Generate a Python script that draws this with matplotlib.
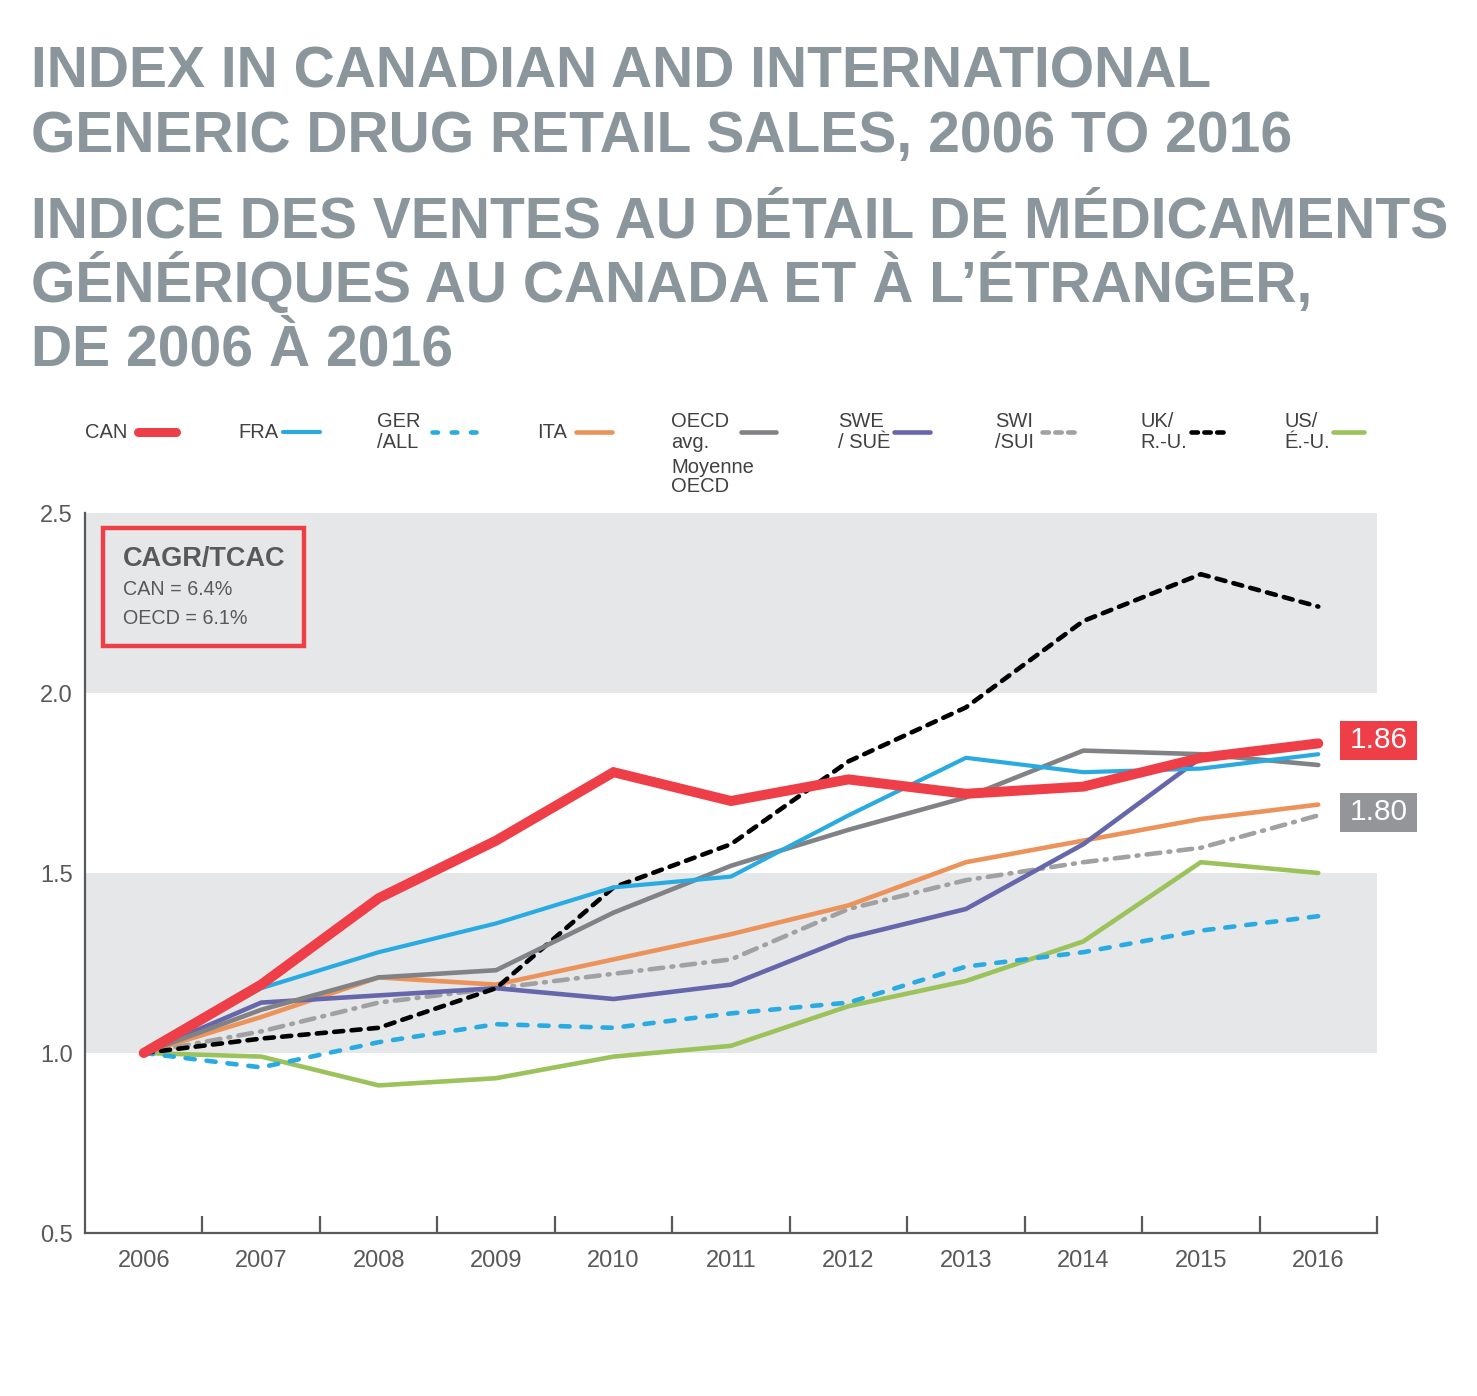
import matplotlib
matplotlib.use("Agg")
import matplotlib.pyplot as plt
from matplotlib.lines import Line2D
from matplotlib.patches import Rectangle

W, H = 1477, 1396

years = list(range(2006, 2017))
can = [1.00, 1.19, 1.43, 1.59, 1.78, 1.70, 1.76, 1.72, 1.74, 1.82, 1.86]
fra = [1.00, 1.18, 1.28, 1.36, 1.46, 1.49, 1.66, 1.82, 1.78, 1.79, 1.83]
ger = [1.00, 0.96, 1.03, 1.08, 1.07, 1.11, 1.14, 1.24, 1.28, 1.34, 1.38]
ita = [1.00, 1.10, 1.21, 1.19, 1.26, 1.33, 1.41, 1.53, 1.59, 1.65, 1.69]
oecd = [1.00, 1.12, 1.21, 1.23, 1.39, 1.52, 1.62, 1.71, 1.84, 1.83, 1.80]
swe = [1.00, 1.14, 1.16, 1.18, 1.15, 1.19, 1.32, 1.40, 1.58, 1.82, 1.86]
swi = [1.00, 1.06, 1.14, 1.18, 1.22, 1.26, 1.40, 1.48, 1.53, 1.57, 1.66]
uk = [1.00, 1.04, 1.07, 1.18, 1.46, 1.58, 1.81, 1.96, 2.20, 2.33, 2.24]
us = [1.00, 0.99, 0.91, 0.93, 0.99, 1.02, 1.13, 1.20, 1.31, 1.53, 1.50]

y_ticks = [0.5, 1.0, 1.5, 2.0, 2.5]
title_lines = [
    "INDEX IN CANADIAN AND INTERNATIONAL",
    "GENERIC DRUG RETAIL SALES, 2006 TO 2016",
    "INDICE DES VENTES AU DÉTAIL DE MÉDICAMENTS",
    "GÉNÉRIQUES AU CANADA ET À L\u2019ÉTRANGER,",
    "DE 2006 À 2016",
]
cagr_lines = ["CAN = 6.4%", "OECD = 6.1%"]

RED = "#ee3e47"
BLUE = "#29abe2"
ORANGE = "#ec935c"
GREY = "#808285"
PURPLE = "#6667ab"
LGREY = "#a1a1a4"
GREEN = "#9bc25b"
TXT = "#58595b"
TITLE = "#8a969b"

plt.rcParams['font.family'] = ['Liberation Sans', 'DejaVu Sans']


def fx(px):
    return px / W


def fy(py):
    return 1 - py / H


# (data, colour, width, dash pattern)
series = [
    (us, GREEN, 3.3, None),
    (ger, BLUE, 3.3, (2.0, 2.6)),
    (swi, LGREY, 3.3, (3.0, 1.8, 0.4, 1.8)),
    (ita, ORANGE, 3.3, None),
    (swe, PURPLE, 3.3, None),
    (uk, "black", 3.3, (2.0, 1.8)),
    (oecd, GREY, 3.3, None),
    (fra, BLUE, 3.0, None),
    (can, RED, 7.2, None),
]

fig = plt.figure(figsize=(W / 100, H / 100), dpi=100)

# title block
baselines = [88, 152, 238, 302, 366]
for txt, base in zip(title_lines, baselines):
    fig.text(fx(31), fy(base), txt, fontsize=41, fontweight='bold',
             color=TITLE, va='baseline', ha='left')

ax = fig.add_axes([fx(85), fy(1233), (1377 - 85) / W, (1233 - 513) / H])
ax.axhspan(1.0, 1.5, color="#e6e7e8", zorder=0, lw=0)
ax.axhspan(2.0, 2.5, color="#e6e7e8", zorder=0, lw=0)

for data, col, lw, dash in series:
    line, = ax.plot(years, data, color=col, lw=lw, solid_capstyle='round',
                    solid_joinstyle='miter', zorder=3)
    if dash is not None:
        line.set_dashes(dash)
        line.set_dash_capstyle('round')

ax.set_xlim(2005.5, 2016.5)
ax.set_ylim(0.5, 2.5)
ax.set_xticks(years)
ax.set_xticklabels([str(y) for y in years])
ax.set_xticks([y + 0.5 for y in years], minor=True)
ax.set_yticks(y_ticks)
ax.set_yticklabels([f"{v:.1f}" for v in y_ticks])
ax.tick_params(axis='x', which='major', length=0, pad=12, labelsize=17,
               labelcolor=TXT)
ax.tick_params(axis='x', which='minor', direction='in', length=12,
               width=1.6, color=TXT)
ax.tick_params(axis='y', length=0, pad=9, labelsize=17, labelcolor=TXT)
for side in ['top', 'right']:
    ax.spines[side].set_visible(False)
for side in ['left', 'bottom']:
    ax.spines[side].set_color(TXT)
    ax.spines[side].set_linewidth(1.6)
ax.patch.set_alpha(0)

# CAGR box
fig.add_artist(Rectangle((fx(103), fy(646)), 201 / W, 118 / H,
                         transform=fig.transFigure, fill=False,
                         ec=RED, lw=3.2))
fig.text(fx(123), fy(566), "CAGR/TCAC", fontsize=19.5, fontweight='bold',
         color=TXT, va='baseline')
fig.text(fx(123), fy(595), cagr_lines[0], fontsize=14.2, color=TXT,
         va='baseline')
fig.text(fx(123), fy(624), cagr_lines[1], fontsize=14.2, color=TXT,
         va='baseline')

# end-value tags
for top, bottom, col, txt in [(721, 760, RED, f"{can[-1]:.2f}"),
                              (793, 832, "#939598", f"{oecd[-1]:.2f}")]:
    fig.add_artist(Rectangle((fx(1340), fy(bottom)), 77 / W,
                             (bottom - top) / H, transform=fig.transFigure,
                             color=col, lw=0))
    fig.text(fx(1378.5), fy((top + bottom) / 2), txt, fontsize=21.5,
             color="white", ha='center', va='center')

# legend drawn by hand
legend_items = [
    (85, ["CAN"], 138, 176, RED, 6.5, None),
    (238, ["FRA"], 283, 320, BLUE, 3.0, None),
    (377, ["GER", "/ALL"], 432, 480, BLUE, 3.3, (1.2, 3.0)),
    (537, ["ITA"], 576, 612, ORANGE, 3.3, None),
    (671, ["OECD", "avg.", "Moyenne", "OECD"], 741, 776, GREY, 3.3, None),
    (838, ["SWE", "/ SUÈ"], 894, 930, PURPLE, 3.3, None),
    (995, ["SWI", "/SUI"], 1042, 1076, LGREY, 3.3, (1.4, 1.4)),
    (1140, ["UK/", "R.-U."], 1191, 1224, "black", 3.3, (1.4, 1.4)),
    (1284, ["US/", "É.-U."], 1333, 1364, GREEN, 3.3, None),
]
row_base = [438, 448, 473, 492]
for x0, labels, lx0, lx1, col, lw, dash in legend_items:
    if len(labels) == 1:
        fig.text(fx(x0), fy(438), labels[0], fontsize=14.5, color="#414042",
                 va='baseline')
    else:
        fig.text(fx(x0), fy(427), labels[0], fontsize=14.5, color="#414042",
                 va='baseline')
        for i, lab in enumerate(labels[1:]):
            fig.text(fx(x0), fy(row_base[i + 1]), lab, fontsize=14.5,
                     color="#414042", va='baseline')
    ln = Line2D([fx(lx0), fx(lx1)], [fy(431.5), fy(431.5)],
                transform=fig.transFigure, color=col, lw=lw,
                solid_capstyle='round')
    if dash is not None:
        ln.set_dashes(dash)
        ln.set_dash_capstyle('round')
    fig.add_artist(ln)

fig.savefig("out.png", dpi=100, facecolor="white")
